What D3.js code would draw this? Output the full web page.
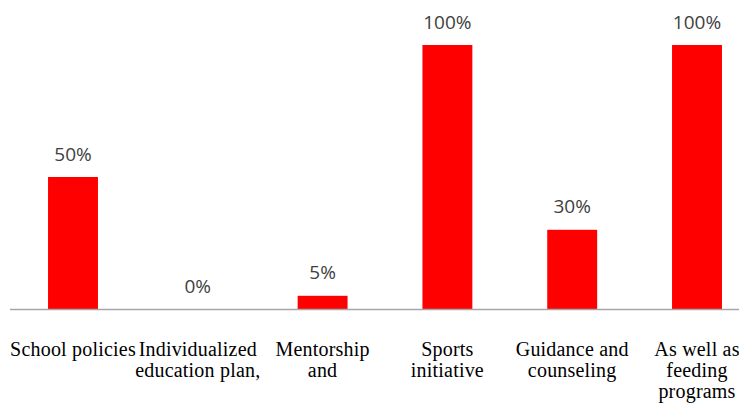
<!DOCTYPE html>
<html>
<head>
<meta charset="utf-8">
<script src="https://cdn.jsdelivr.net/npm/d3@7"></script>
<style>
  body { margin: 0; background: #fff; }
  svg { display: block; }
</style>
</head>
<body>
<div id="chart"></div>
<script>
let categories = ["School policies", "Individualized education plan,", "Mentorship and", "Sports initiative", "Guidance and counseling", "As well as feeding programs"];
let category_lines = [["School policies"], ["Individualized", "education plan,"], ["Mentorship", "and"], ["Sports", "initiative"], ["Guidance and", "counseling"], ["As well as", "feeding", "programs"]];
let values = [50, 0, 5, 100, 30, 100];
let value_labels = ["50%", "0%", "5%", "100%", "30%", "100%"];

let width_chart = 739, height_chart = 409;
let axis_y = 309;

let svg = d3.select("#chart").append("svg")
    .attr("width", width_chart)
    .attr("height", height_chart);

let xScale = d3.scaleBand()
    .domain(categories)
    .range([10.6, 759.4])
    .paddingInner(0.6)
    .paddingOuter(0.3);

let yScale = d3.scaleLinear().domain([0, 100]).range([axis_y, 45]);

// bars
svg.selectAll(".bar")
    .data(values)
    .join("rect")
    .attr("class", "bar")
    .attr("x", (d, i) => xScale(categories[i]))
    .attr("y", d => yScale(d))
    .attr("width", xScale.bandwidth())
    .attr("height", d => axis_y - yScale(d))
    .attr("fill", "#ff0000");

// axis line
svg.append("line")
    .attr("x1", 10).attr("x2", width_chart)
    .attr("y1", axis_y + 0.5).attr("y2", axis_y + 0.5)
    .attr("stroke", "#a6a6a6")
    .attr("stroke-width", 1.5);

// value labels
svg.selectAll(".val")
    .data(values)
    .join("text")
    .attr("class", "val")
    .attr("x", (d, i) => xScale(categories[i]) + xScale.bandwidth() / 2)
    .attr("y", d => yScale(d) - 16.5)
    .attr("text-anchor", "middle")
    .style("font-family", "'Open Sans'")
    .style("font-size", "19px")
    .attr("fill", "#404040")
    .text((d, i) => value_labels[i]);

// category labels
let cat = svg.selectAll(".cat")
    .data(categories)
    .join("text")
    .attr("class", "cat")
    .attr("text-anchor", "middle")
    .style("font-family", "'Liberation Serif'")
    .style("font-size", "20px")
    .style("letter-spacing", "0.2px")
    .attr("fill", "#000");

cat.selectAll("tspan")
    .data((d, i) => category_lines[i].map(t => ({t: t, c: d})))
    .join("tspan")
    .attr("x", d => xScale(d.c) + xScale.bandwidth() / 2)
    .attr("y", (d, j) => 356 + j * 21)
    .text(d => d.t);
</script>
</body>
</html>
